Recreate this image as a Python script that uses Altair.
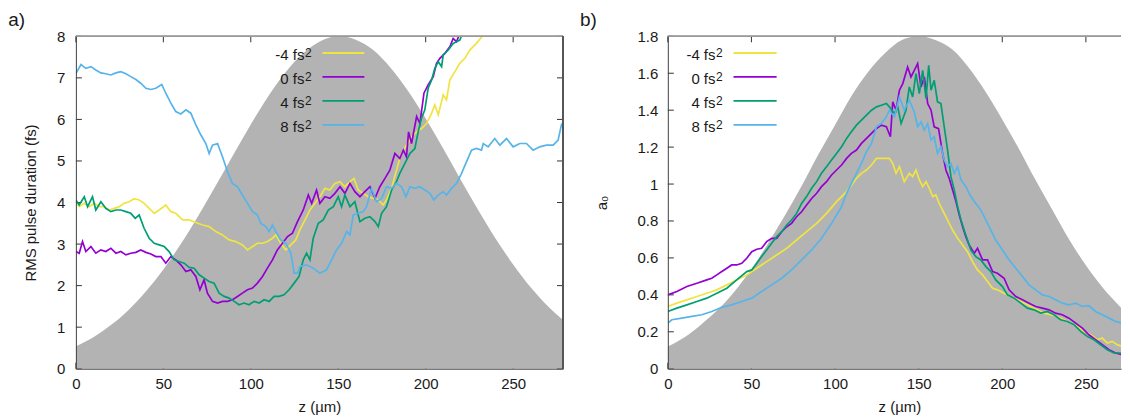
import altair as alt
import pandas as pd

FONT = "Liberation Sans"

# ---------------- data ----------------
series_names = ["-4 fs²", "0 fs²", "4 fs²", "8 fs²"]
legend_base = ["-4 fs", "0 fs", "4 fs", "8 fs"]
legend_sup = ["2", "2", "2", "2"]
series_colors = ["#f0e442", "#9400d3", "#009e73", "#56b4e9"]

env_z = [0, 10, 20, 30, 40, 50, 60, 70, 80, 90, 100, 110, 120, 130, 140, 150,
         160, 170, 180, 190, 200, 210, 220, 230, 240, 250, 260, 270, 280]
env_a = [0.54, 0.76, 1.05, 1.41, 1.86, 2.39, 3.00, 3.68, 4.41, 5.15, 5.88, 6.56,
         7.14, 7.59, 7.89, 8.0, 7.92, 7.67, 7.24, 6.68, 6.02, 5.30, 4.55, 3.82,
         3.13, 2.51, 1.96, 1.50, 1.12]
env_b = [0.12, 0.17, 0.24, 0.32, 0.42, 0.54, 0.68, 0.83, 0.99, 1.16, 1.32, 1.48,
         1.61, 1.71, 1.78, 1.80, 1.78, 1.73, 1.63, 1.50, 1.35, 1.19, 1.02, 0.86,
         0.70, 0.56, 0.44, 0.34, 0.25]

# panel a) RMS pulse duration (fs)
a_m4_z = [0, 1.9, 4.8, 7.6, 10.5, 13.3, 16.2, 19, 21.9, 24.8, 27.6, 30.5, 33.3, 36.2, 39, 41.9,
          44.8, 47.6, 51.4, 54.3, 57.1, 61, 64.8, 68.6, 72.4, 76.2, 80, 83.8, 87.6, 91.4, 95.2,
          98.1, 101, 103.8, 106.7, 109.5, 112.4, 114.3, 117.1, 120, 122.9, 125.7,
          128.1, 131, 133.8, 136.7, 139.5, 142.4, 145.2, 148.1, 151, 153.8, 156.7, 159, 161.4,
          164.3, 167.1, 170, 172.9, 175.7, 177.6, 180.5, 183.3, 185.2, 187.2, 189, 191.9, 194.8,
          197.6, 200.5, 203.4, 205.2, 207.2, 210, 211.9, 213.8, 216.7, 219.5, 222.4, 225.2, 229,
          232.9, 236]
a_m4_v = [4.02, 3.9, 3.98, 3.9, 3.98, 3.9, 3.9, 3.82, 3.86, 3.9, 3.98, 4.02, 4.09, 4.06, 3.98, 3.86,
          3.74, 3.82, 3.94, 3.78, 3.74, 3.58, 3.58, 3.52, 3.46, 3.42, 3.3, 3.22, 3.1, 3.06, 2.98,
          2.86, 2.94, 3.02, 3.02, 3.06, 3.14, 3.22, 3.02, 2.86, 2.98, 3.1,
          3.34, 3.58, 3.82, 3.98, 4.14, 4.34, 4.3, 4.46, 4.5, 4.38, 4.5, 4.58, 4.3,
          4.22, 4.14, 4.1, 4.06, 3.94, 4.06, 4.34, 4.78, 5.06, 5.26, 5.38, 5.58, 5.7,
          5.78, 5.9, 6.15, 6.35, 6.11, 6.59, 6.47, 6.95, 7.15, 7.35, 7.47, 7.67, 7.83,
          8.03, 8.3]

a_0_z = [0, 1.9, 3.8, 5.7, 8.6, 11.4, 14.3, 17.1, 20, 22.9, 25.7, 28.6, 31.4, 34.3, 37.1, 40,
         42.9, 45.7, 48.6, 51.4, 54.3, 57.1, 60, 62.9, 65.7, 68.6, 70.9, 73.3, 75.2, 78.1, 81,
         83.8, 86.7, 89.5, 92.4, 95.2, 98.1, 101, 103.8, 106.7, 109.5, 112.4, 115.2, 118.1, 121,
         123.8, 126.7,
         130, 132.9, 134.8, 137.6, 139.5, 142.4, 145.2, 148.1, 151, 153.8, 156.7, 159.5, 162.4,
         165.2, 168.1, 171, 173.8, 176.7, 179.5, 182.4, 185.2, 187.2, 189, 190.2, 191.9, 194.8,
         196.7, 199, 201.4, 204.3, 206.2, 208.1, 211, 213.8, 215.7, 217.6, 219.5, 222]
a_0_v = [2.82, 2.78, 3.06, 2.82, 2.94, 2.78, 2.86, 2.82, 2.9, 2.78, 2.82, 2.74, 2.78, 2.8, 2.86, 2.8,
         2.76, 2.7, 2.7, 2.54, 2.7, 2.62, 2.5, 2.34, 2.38, 2.22, 1.9, 2.14, 1.82, 1.62, 1.58,
         1.62, 1.62, 1.66, 1.74, 1.82, 1.9, 1.94, 2.06, 2.22, 2.42, 2.62, 2.86, 3.02, 3.18,
         3.26, 3.54,
         3.82, 4.18, 3.98, 4.3, 3.98, 4.14, 4.1, 4.22, 4.38, 4.22, 4.46, 4.26, 4.14,
         4.26, 4.38, 4.1, 4.38, 4.58, 4.78, 5.18, 5.06, 5.26, 5.1, 5.7, 5.42, 6.07,
         5.9, 6.63, 6.83, 7.03, 7.35, 7.47, 7.59, 7.75, 7.95, 7.87, 8.07, 8.3]

a_4_z = [0, 1.9, 4.8, 6.7, 9.5, 11.4, 14.3, 17.1, 20, 22.9, 25.7, 28.6, 31.4, 33.9, 36.2, 39,
         41.9, 44.8, 47.6, 50.5, 53.3, 56.2, 59, 61.9, 64.8, 67.6, 70.5, 73.3, 76.2, 79, 81.9,
         84.8, 87.6, 90.5, 93.3, 96.2, 99, 101.9, 104.8, 107.6, 110.5, 113.3, 116.2, 119, 121.9,
         124.8, 127.6,
         130, 131.9, 133.8, 135.7, 138.6, 141.4, 144.3, 147.2, 150, 151.9, 153.8, 156.7, 159.5,
         162.4, 165.2, 168.1, 171, 172.9, 174.8, 177.6, 180.5, 183.3, 185.2, 188.1, 191, 193.8,
         195.7, 197.6, 199.5, 201.4, 203.4, 205.2, 207.2, 209.1, 210, 212.9, 215.7, 217.6, 219.5,
         221.4, 223]
a_4_v = [4.06, 3.94, 4.14, 3.9, 4.14, 3.82, 4.02, 3.86, 3.78, 3.82, 3.82, 3.78, 3.74, 3.62, 3.7, 3.38,
         3.14, 3.02, 2.98, 2.94, 2.82, 2.62, 2.58, 2.54, 2.44, 2.42, 2.26, 2.18, 2.1, 2.06, 1.82,
         1.74, 1.7, 1.62, 1.54, 1.58, 1.54, 1.62, 1.58, 1.66, 1.62, 1.74, 1.74, 1.78, 1.9,
         2.06, 2.22,
         2.62, 2.78, 2.62, 3.14, 3.5, 3.58, 3.82, 3.9, 4.14, 3.9, 4.18, 3.9, 4.02,
         3.54, 3.62, 3.66, 3.54, 3.42, 3.74, 3.9, 4.3, 4.5, 4.7, 4.94, 5.18, 5.3,
         5.7, 6.03, 6.23, 6.75, 6.95, 7.23, 7.39, 7.27, 7.55, 7.67, 7.83, 7.87, 7.91,
         8.11, 8.3]

a_8_z = [0, 2.9, 5.7, 8.6, 11.4, 14.3, 17.1, 20, 22.9, 25.7, 28.6, 31.4, 34.3, 37.1, 40, 42.9,
         45.7, 49.1, 51.4, 54.3, 57.1, 60, 62.9, 65.7, 68.6, 71.4, 74.3, 76.2, 78.1, 81, 83.8,
         86.7, 89.5, 92.4, 95.2, 98.1, 101, 103.8, 105.7, 108.6, 110.5, 112.4, 114.3, 117.1, 120,
         122.9, 124.8, 126.7,
         128.1, 131.9, 135.7, 139.5, 143.3, 146.2, 149, 151.9, 154.8, 156.7, 158.6, 161.4, 164.3,
         166.2, 169, 171.9, 174.8, 177.6, 180.5, 183.3, 186.2, 188.7, 191, 193.8, 196.7, 199.5,
         202.4, 204.7, 207.1, 210, 211.9, 214.8, 217.6, 220.5, 223.3, 226.2, 229, 231.9, 232.9,
         235.7, 239.5, 242.4, 246.2, 250, 253.8, 257.6, 261.4, 265.2, 269, 272.9, 275.7, 277.6,
         279]
a_8_v = [7.1, 7.32, 7.23, 7.27, 7.19, 7.12, 7.1, 7.07, 7.12, 7.15, 7.1, 7.03, 6.96, 6.87, 6.75, 6.72,
         6.75, 6.84, 6.63, 6.39, 6.19, 6.13, 6.23, 6.15, 5.87, 5.63, 5.42, 5.18, 5.38, 5.42, 5.1,
         4.74, 4.46, 4.38, 4.18, 3.98, 3.78, 3.7, 3.5, 3.42, 3.3, 3.46, 3.3, 3.1, 3.02,
         2.78, 2.3, 2.3,
         2.46, 2.5, 2.42, 2.3, 2.38, 2.62, 2.86, 3.02, 3.3, 3.22, 3.7, 3.74, 3.78,
         3.9, 4.34, 4.02, 4.1, 4.38, 4.34, 4.46, 4.38, 4.14, 4.38, 4.34, 4.38, 4.3,
         4.22, 4.06, 4.18, 4.26, 4.18, 4.34, 4.46, 4.7, 4.98, 5.26, 5.3, 5.26, 5.42,
         5.34, 5.54, 5.38, 5.54, 5.34, 5.42, 5.42, 5.26, 5.34, 5.38, 5.38, 5.5, 5.87,
         5.95]

# panel b) a0
b_m4_z = [0, 5.4, 11.4, 17.4, 23.3, 29.3, 35.3, 41.2, 47.2, 53.2, 59.1, 65.1, 71.1, 77, 83, 89,
          94.9, 100.9, 106.9, 112.8, 115.8, 118.8, 121.8, 124.8, 127.7, 130.7,
          132.5, 134.5, 136.5, 138.5, 141.4, 144.4, 146.4, 148.4, 150.4, 152.4, 154.4, 156.4,
          158.4, 160.3, 162.3, 164.3, 167.3, 170.3, 173.3, 176.3, 179.2, 182.2, 185.2, 188.2,
          191.2, 194.2, 197.1, 201.1, 205.1, 209.1, 213.1, 217, 221, 225, 229, 233, 236.9,
          240.9, 244.9, 248.9, 252.8, 256.8, 259.8, 262.8, 265.7, 268.7, 271.7, 275.7]
b_m4_v = [0.337, 0.355, 0.373, 0.391, 0.409, 0.427, 0.454, 0.481, 0.508, 0.544, 0.58, 0.616, 0.652,
          0.697, 0.742, 0.787, 0.841, 0.905, 0.959, 1.031, 1.058, 1.076, 1.103, 1.139, 1.139, 1.139,
          1.139, 1.112, 1.058, 1.094, 1.013, 1.058, 1.04, 1.076, 1.022, 0.986, 1.013, 0.977,
          0.932, 0.941, 0.895, 0.859, 0.805, 0.751, 0.706, 0.67, 0.634, 0.58, 0.535, 0.508,
          0.472, 0.436, 0.427, 0.409, 0.391, 0.373, 0.355, 0.337, 0.319, 0.301, 0.292, 0.283,
          0.265, 0.247, 0.229, 0.202, 0.184, 0.157, 0.166, 0.139, 0.148, 0.13, 0.121, 0.103]

b_0_z = [0, 5.4, 11.4, 17.4, 23.3, 26.3, 29.3, 32.3, 35.3, 38.2, 41.2, 44.2, 47.2, 50.2, 53.2,
         56.1, 59.1, 62.1, 65.1, 68.1, 71.1, 74, 77, 80, 83, 86, 89, 91.9, 94.9, 97.9, 100.9,
         103.9, 106.9, 109.8, 112.8, 115.8, 118.8, 121.8, 124.8, 127.7, 130.7, 133.1,
         134.5, 136.5, 138.5, 140.5, 143.4, 145.4, 147.4, 149.4, 151.4, 153.4, 155.4, 157.4,
         159.3, 161.9, 164.3, 166.3, 168.3, 170.3, 172.3, 174.3, 176.3, 178.2, 180.2, 183.2,
         185.2, 188.2, 191.2, 194.2, 197.1, 201.1, 204.1, 208.1, 212.1, 216, 220, 224, 228,
         231.9, 235.9, 239.9, 243.9, 247.9, 251.8, 255.8, 259.8, 263.8, 267.7, 271.7, 275.7]
b_0_v = [0.4, 0.418, 0.445, 0.463, 0.481, 0.49, 0.508, 0.526, 0.544, 0.562, 0.562, 0.571, 0.598,
         0.634, 0.647, 0.652, 0.688, 0.706, 0.706, 0.742, 0.769, 0.787, 0.823, 0.85, 0.886, 0.922,
         0.95, 0.986, 1.013, 1.049, 1.076, 1.103, 1.139, 1.166, 1.184, 1.22, 1.247, 1.274, 1.301,
         1.319, 1.31, 1.256,
         1.445, 1.4, 1.508, 1.544, 1.634, 1.58, 1.616, 1.652, 1.526, 1.58, 1.436, 1.4,
         1.31, 1.3, 1.166, 1.076, 1.03, 0.968, 0.905, 0.832, 0.769, 0.715, 0.67, 0.625,
         0.652, 0.589, 0.589, 0.526, 0.517, 0.49, 0.427, 0.391, 0.373, 0.355, 0.337, 0.328,
         0.319, 0.301, 0.292, 0.274, 0.247, 0.22, 0.184, 0.157, 0.13, 0.103, 0.085, 0.076, 0.076]

b_4_z = [0, 5.4, 11.4, 17.4, 23.3, 29.3, 35.3, 41.2, 47.2, 50.2, 53.2, 56.1, 59.1, 62.1, 65.1,
         68.1, 71.1, 74, 77, 80, 83, 86, 89, 91.9, 94.9, 97.9, 100.9, 103.9, 106.9, 109.8, 112.8,
         115.8, 118.8, 121.8, 124.8, 127.7, 130.7,
         132.5, 135.5, 137.5, 139.5, 142.4, 144.4, 146.4, 148.4, 150.4, 152.4, 154.4, 156,
         157.4, 159.3, 161.3, 163.3, 165.3, 167.3, 169.3, 171.3, 173.3, 175.3, 177.2, 179.2,
         181.2, 184.2, 187.2, 190.2, 193.2, 196.1, 200.1, 203.1, 207.1, 211.1, 215, 219, 223,
         227, 230.9, 234.9, 238.9, 242.9, 246.9, 250.8, 254.8, 258.8, 262.8, 266.8, 270.7, 275.7]
b_4_v = [0.31, 0.328, 0.346, 0.364, 0.382, 0.409, 0.436, 0.481, 0.526, 0.535, 0.571, 0.607, 0.643,
         0.679, 0.715, 0.742, 0.778, 0.805, 0.841, 0.895, 0.932, 0.977, 1.013, 1.058, 1.094, 1.13,
         1.166, 1.202, 1.247, 1.283, 1.319, 1.346, 1.373, 1.4, 1.418, 1.427, 1.436,
         1.418, 1.382, 1.418, 1.328, 1.4, 1.526, 1.472, 1.598, 1.49, 1.616, 1.463, 1.643,
         1.508, 1.562, 1.445, 1.436, 1.31, 1.184, 1.04, 0.968, 0.877, 0.805, 0.751, 0.697,
         0.643, 0.607, 0.589, 0.553, 0.526, 0.481, 0.445, 0.4, 0.382, 0.355, 0.328, 0.319, 0.301,
         0.31, 0.292, 0.265, 0.256, 0.238, 0.202, 0.175, 0.157, 0.13, 0.103, 0.085, 0.085, 0.076]

b_8_z = [0, 2.4, 8.4, 14.4, 20.3, 26.3, 32.3, 38.2, 44.2, 50.2, 56.1, 62.1, 68.1, 74, 80, 86,
         91.9, 97.9, 103.9, 106.9, 109.8, 112.8, 115.8, 118.8, 121.8, 124.8, 127.7, 130.7,
         132.5, 135.5, 138.5, 141.4, 144.4, 147.4, 149.4, 151.4, 153.4, 155.4, 157.4, 159.3,
         161.3, 163.3, 165.3, 167.3, 169.3, 171.3, 173.3, 175.3, 178.2, 181.2, 184.2, 187.2,
         190.2, 193.2, 196.1, 200.1, 204.1, 208.1, 212.1, 216, 220, 224, 228, 231.9, 235.9,
         239.9, 243.9, 247.9, 251.8, 255.8, 259.8, 263.8, 267.7, 271.7, 275.7]
b_8_v = [0.247, 0.265, 0.274, 0.283, 0.292, 0.31, 0.333, 0.346, 0.364, 0.382, 0.418, 0.454, 0.49,
         0.535, 0.589, 0.643, 0.706, 0.787, 0.877, 0.95, 1.004, 1.058, 1.112, 1.175, 1.22, 1.31,
         1.328, 1.364,
         1.4, 1.364, 1.472, 1.4, 1.454, 1.391, 1.31, 1.337, 1.292, 1.328, 1.238, 1.256,
         1.166, 1.202, 1.13, 1.094, 1.112, 1.058, 1.094, 1.022, 0.986, 0.932, 0.895, 0.859,
         0.805, 0.751, 0.697, 0.643, 0.589, 0.544, 0.499, 0.454, 0.427, 0.4, 0.391, 0.373, 0.355,
         0.346, 0.355, 0.337, 0.341, 0.31, 0.292, 0.274, 0.256, 0.247, 0.238]

x_tick_values = [0, 50, 100, 150, 200, 250]
a_y_ticks = [0, 1, 2, 3, 4, 5, 6, 7, 8]
b_y_ticks = [0, 0.2, 0.4, 0.6, 0.8, 1.0, 1.2, 1.4, 1.6, 1.8]


def long_df(pairs):
    rows = []
    for name, zs, vs in pairs:
        assert len(zs) == len(vs), (name, len(zs), len(vs))
        for z, v in zip(zs, vs):
            rows.append({"z": z, "v": v, "series": name})
    return pd.DataFrame(rows)


def panel(tag, env, pairs, xdom, ydom, W, H, yticks, ytitle, ylab_pad, ytitle_pad,
          leg_text_x, leg_x0, leg_x1, tag_x, xtitle_x, right_border):
    xs = alt.Scale(domain=xdom, nice=False, zero=False)
    ys = alt.Scale(domain=ydom, nice=False, zero=False)
    xaxis_kw = dict(values=x_tick_values, title="z (µm)", labelPadding=8, titlePadding=8,
                    zindex=1, labelFlush=False)
    if xtitle_x is not None:
        xaxis_kw["titleX"] = xtitle_x
    xaxis = alt.Axis(**xaxis_kw)
    yaxis = alt.Axis(values=yticks, title=ytitle, format="~g", labelPadding=ylab_pad,
                     titlePadding=ytitle_pad, zindex=1, labelFlush=False)
    X = lambda f: alt.X(f, type="quantitative", scale=xs, axis=xaxis)
    Y = lambda f: alt.Y(f, type="quantitative", scale=ys, axis=yaxis)

    layers = []
    xt = pd.DataFrame({"t": x_tick_values})
    yt = pd.DataFrame({"t": yticks})
    tick_col = "#333333"
    layers.append(alt.Chart(xt).mark_rule(color=tick_col, strokeWidth=1).encode(
        x=X("t"), y=alt.value(0), y2=alt.value(6)))
    layers.append(alt.Chart(xt).mark_rule(color=tick_col, strokeWidth=1).encode(
        x=X("t"), y=alt.value(H - 6), y2=alt.value(H)))
    layers.append(alt.Chart(yt).mark_rule(color=tick_col, strokeWidth=1).encode(
        y=Y("t"), x=alt.value(0), x2=alt.value(6)))
    if right_border:
        layers.append(alt.Chart(yt).mark_rule(color=tick_col, strokeWidth=1).encode(
            y=Y("t"), x=alt.value(W - 6), x2=alt.value(W)))

    env_df = pd.DataFrame({"z": env_z, "v": env})
    layers.append(alt.Chart(env_df).mark_area(color="#b3b3b3", interpolate="monotone",
                                              clip=True).encode(x=X("z"), y=Y("v")))

    df = long_df(pairs)
    layers.append(alt.Chart(df).mark_line(strokeWidth=1.7, clip=True).encode(
        x=X("z"), y=Y("v"),
        color=alt.Color("series:N", scale=alt.Scale(domain=series_names, range=series_colors),
                        legend=None)))

    # frame
    layers.append(alt.Chart(xt).mark_rule(color="#9a9a9a", strokeWidth=1.2).encode(
        x=alt.value(0), x2=alt.value(W), y=alt.value(0)))
    if right_border:
        layers.append(alt.Chart(xt).mark_rule(color="#555555", strokeWidth=1).encode(
            x=alt.value(W), y=alt.value(0), y2=alt.value(H)))

    # legend (gnuplot style: label with superscript, then sample line)
    for i, (base, sup, col) in enumerate(zip(legend_base, legend_sup, series_colors)):
        ry = 16.7 + 24 * i
        ldf = pd.DataFrame({"label": [base], "sup": [sup]})
        layers.append(alt.Chart(ldf).mark_text(align="right", baseline="alphabetic", font=FONT,
                                               fontSize=15, color="#1a1a1a").encode(
            text="label:N", x=alt.value(leg_text_x - 8), y=alt.value(ry + 7)))
        layers.append(alt.Chart(ldf).mark_text(align="left", baseline="alphabetic", font=FONT,
                                               fontSize=12, color="#1a1a1a").encode(
            text="sup:N", x=alt.value(leg_text_x - 7.5), y=alt.value(ry + 4)))
        layers.append(alt.Chart(ldf).mark_rule(color=col, strokeWidth=1.8).encode(
            x=alt.value(leg_x0), x2=alt.value(leg_x1), y=alt.value(ry)))

    tdf = pd.DataFrame({"label": [tag]})
    layers.append(alt.Chart(tdf).mark_text(align="left", baseline="top", font=FONT,
                                           fontSize=19, color="#1a1a1a").encode(
        text="label:N", x=alt.value(tag_x), y=alt.value(-25)))

    return alt.layer(*layers).properties(width=W, height=H)


left = panel("a)", env_a,
             [(series_names[0], a_m4_z, a_m4_v), (series_names[1], a_0_z, a_0_v),
              (series_names[2], a_4_z, a_4_v), (series_names[3], a_8_z, a_8_v)],
             [0, 278.5], [0, 8], 488, 333, a_y_ticks, "RMS pulse duration (fs)",
             11, 18, 237, 247, 289, -67.8, None, True)

right = panel("b)", env_b,
              [(series_names[0], b_m4_z, b_m4_v), (series_names[1], b_0_z, b_0_v),
               (series_names[2], b_4_z, b_4_v), (series_names[3], b_8_z, b_8_v)],
              [0, 271], [0, 1.8], 454, 333, b_y_ticks, "a₀",
              10, 28, 55.8, 65.8, 109, -87.9, 232, False)

chart = alt.hconcat(left, right, spacing=16).properties(
    padding={"left": 0, "top": 3, "right": 0, "bottom": 0}
).configure_view(stroke=None).configure_axis(
    labelFont=FONT, labelFontSize=15, labelColor="#1a1a1a",
    titleFont=FONT, titleFontSize=15, titleFontWeight="normal", titleColor="#1a1a1a",
    ticks=False, grid=False, domainColor="#404040", domainWidth=1
)

chart.save("out.html", embed_options={"renderer": "svg", "actions": False})
